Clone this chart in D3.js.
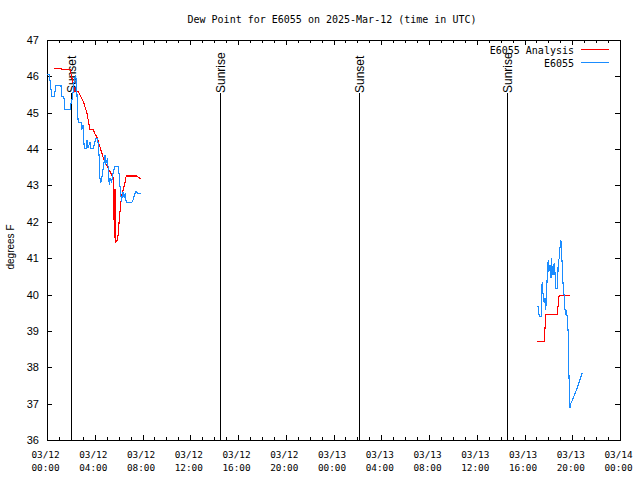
<!DOCTYPE html>
<html><head><meta charset="utf-8">
<script src="https://cdn.jsdelivr.net/npm/d3@7"></script>
<style>
html,body{margin:0;padding:0;background:#fff;}
svg{display:block;}
</style></head><body>
<svg id="chart" width="640" height="480"></svg>
<script>
// ---------------- data ----------------
const chartTitle = "Dew Point for E6055 on 2025-Mar-12 (time in UTC)";
const yAxisTitle = "degrees F";
const seriesNames = ["E6055 Analysis", "E6055"];
const seriesColors = ["#ff0000", "#1a8cff"];

const xDomain = ["2025-03-12 00:00", "2025-03-14 00:00"];
const yDomain = [36, 47];
const yTickValues = [36, 37, 38, 39, 40, 41, 42, 43, 44, 45, 46, 47];

const analysisTimes = [
  "2025-03-12 00:37","2025-03-12 01:14","2025-03-12 01:15","2025-03-12 01:56","2025-03-12 02:04",
  "2025-03-12 02:21","2025-03-12 02:37","2025-03-12 02:45","2025-03-12 03:03","2025-03-12 03:19",
  "2025-03-12 03:36","2025-03-12 03:53","2025-03-12 04:00","2025-03-12 04:10","2025-03-12 04:26",
  "2025-03-12 04:43","2025-03-12 04:51","2025-03-12 05:25","2025-03-12 05:35","2025-03-12 05:38",
  "2025-03-12 05:42","2025-03-12 05:46","2025-03-12 05:55","2025-03-12 06:02","2025-03-12 06:07",
  "2025-03-12 06:15","2025-03-12 06:23","2025-03-12 06:32","2025-03-12 06:35","2025-03-12 06:40",
  "2025-03-12 07:30","2025-03-12 07:47","2025-03-12 07:51",
  "2025-03-13 17:02","2025-03-13 17:39","2025-03-13 17:43","2025-03-13 17:46","2025-03-13 18:45",
  "2025-03-13 18:49","2025-03-13 18:54","2025-03-13 19:48"
];
const analysisValues = [
  46.22,46.22,46.19,46.19,45.98,
  45.58,45.58,45.50,45.30,45.03,
  44.54,44.54,44.42,44.34,44.07,
  43.75,43.65,43.29,43.20,41.55,
  42.90,41.45,41.50,41.97,42.30,
  42.70,42.88,43.07,43.20,43.26,
  43.26,43.20,43.20,
  38.72,38.72,39.07,39.46,39.46,
  39.71,39.98,39.98
];

const obsTimes = [
  "2025-03-12 00:00","2025-03-12 00:12","2025-03-12 00:15","2025-03-12 00:24","2025-03-12 00:37",
  "2025-03-12 00:44","2025-03-12 01:10","2025-03-12 01:14","2025-03-12 01:25","2025-03-12 01:30",
  "2025-03-12 01:56","2025-03-12 02:01","2025-03-12 02:08","2025-03-12 02:17","2025-03-12 02:24",
  "2025-03-12 02:29","2025-03-12 02:34","2025-03-12 02:37","2025-03-12 02:51","2025-03-12 02:54",
  "2025-03-12 03:02","2025-03-12 03:07","2025-03-12 03:16","2025-03-12 03:21","2025-03-12 03:26",
  "2025-03-12 03:36","2025-03-12 03:41","2025-03-12 03:53","2025-03-12 03:59","2025-03-12 04:06",
  "2025-03-12 04:13","2025-03-12 04:18","2025-03-12 04:23","2025-03-12 04:26","2025-03-12 04:30",
  "2025-03-12 04:35","2025-03-12 04:43","2025-03-12 04:51","2025-03-12 04:56","2025-03-12 05:03",
  "2025-03-12 05:08","2025-03-12 05:13","2025-03-12 05:17","2025-03-12 05:25","2025-03-12 05:33",
  "2025-03-12 05:42","2025-03-12 05:58","2025-03-12 06:02","2025-03-12 06:07","2025-03-12 06:12",
  "2025-03-12 06:15","2025-03-12 06:18","2025-03-12 06:23","2025-03-12 06:28","2025-03-12 06:33",
  "2025-03-12 06:38","2025-03-12 07:06","2025-03-12 07:12","2025-03-12 07:22","2025-03-12 07:27",
  "2025-03-12 07:39","2025-03-12 07:52",
  "2025-03-13 17:05","2025-03-13 17:10","2025-03-13 17:14","2025-03-13 17:24","2025-03-13 17:26",
  "2025-03-13 17:29","2025-03-13 17:32","2025-03-13 17:35","2025-03-13 17:39","2025-03-13 17:43",
  "2025-03-13 17:47","2025-03-13 17:56","2025-03-13 17:59","2025-03-13 18:02","2025-03-13 18:08",
  "2025-03-13 18:13","2025-03-13 18:16","2025-03-13 18:19","2025-03-13 18:24","2025-03-13 18:29",
  "2025-03-13 18:33","2025-03-13 18:36","2025-03-13 18:46","2025-03-13 18:49","2025-03-13 18:54",
  "2025-03-13 18:58","2025-03-13 19:03","2025-03-13 19:07","2025-03-13 19:10","2025-03-13 19:15",
  "2025-03-13 19:19","2025-03-13 19:23","2025-03-13 19:27","2025-03-13 19:31","2025-03-13 19:37",
  "2025-03-13 19:40","2025-03-13 19:43","2025-03-13 19:48","2025-03-13 19:53","2025-03-13 20:05",
  "2025-03-13 20:30","2025-03-13 20:50"
];
const obsValues = [
  46.04,46.04,45.90,45.44,45.44,
  45.76,45.76,45.44,45.44,45.08,
  45.08,45.27,45.40,45.90,46.04,
  45.76,44.98,44.72,44.72,44.53,
  44.66,44.02,44.02,44.25,44.02,
  44.20,44.02,44.02,44.17,44.30,
  44.30,44.11,43.70,43.20,43.06,
  43.20,43.48,43.84,43.61,43.70,
  43.48,43.01,43.20,43.10,43.37,
  43.52,43.52,43.34,42.97,42.69,
  42.55,42.74,42.82,42.65,42.79,
  42.53,42.53,42.60,42.78,42.83,
  42.78,42.78,
  39.66,39.66,39.39,39.39,40.08,
  40.35,40.12,39.85,39.77,39.90,
  39.58,40.72,40.95,40.63,40.81,
  40.45,41.00,40.68,40.54,40.86,
  40.63,40.17,40.17,40.81,41.00,
  41.27,41.50,41.14,40.72,40.17,
  39.99,39.62,39.44,39.58,39.21,
  38.89,37.88,36.87,37.01,37.15,
  37.51,37.85
];

const sunEventNames = ["Sunset", "Sunrise", "Sunset", "Sunrise"];
const sunEventTimes = ["2025-03-12 02:01", "2025-03-12 14:29", "2025-03-13 02:08", "2025-03-13 14:34"];

// ---------------- drawing ----------------
const parse = d3.utcParse("%Y-%m-%d %H:%M");
const W = 640, H = 480;
const plot = {left: 47, right: 620, top: 40, bottom: 440};
const svg = d3.select("#chart");
const MONO = "'DejaVu Sans Mono', 'Liberation Mono', monospace";
const SANS = "'Liberation Sans', Arial, sans-serif";

const x = d3.scaleUtc().domain(xDomain.map(parse)).range([plot.left, plot.right]);
const y = d3.scaleLinear().domain(yDomain).range([plot.bottom, plot.top]);

svg.append("rect").attr("width", W).attr("height", H).attr("fill", "#fff");

// title
svg.append("text").attr("x", 332).attr("y", 23).attr("text-anchor", "middle")
  .style("font-family", MONO).style("font-size", "10px").attr("fill", "#000").text(chartTitle);

// y-axis title
svg.append("text").attr("transform", "translate(14,247) rotate(-90)").attr("text-anchor", "middle")
  .style("font-family", SANS).style("font-size", "10px").attr("fill", "#000").text(yAxisTitle);

const [t0, t1] = x.domain();
const majorTicks = d3.utcHour.every(4).range(t0, d3.utcHour.offset(t1, 1));
const minorTicks = d3.utcHour.every(1).range(t0, d3.utcHour.offset(t1, 1)).filter(d => d.getUTCHours() % 4 !== 0);

function styleAxis(g) {
  g.select(".domain").remove();
  g.selectAll("line").attr("stroke", "#000").attr("shape-rendering", "crispEdges");
}

// bottom axis (major with labels)
const fmtDate = d3.utcFormat("%m/%d"), fmtTime = d3.utcFormat("%H:%M");
const gx = svg.append("g").attr("transform", `translate(0,${plot.bottom})`)
  .call(d3.axisBottom(x).tickValues(majorTicks).tickSizeInner(-5).tickSizeOuter(0).tickPadding(11).tickFormat(() => ""))
  .call(styleAxis);
gx.selectAll(".tick text").each(function(d) {
  const t = d3.select(this);
  t.text(null).attr("y", 0).attr("dy", null)
    .style("font-family", MONO).style("font-size", "9.4px").attr("fill", "#000").attr("x", -2);
  t.append("tspan").attr("x", -2).attr("y", 18).text(fmtDate(d));
  t.append("tspan").attr("x", -2).attr("y", 30.5).text(fmtTime(d));
});
svg.append("g").attr("transform", `translate(0,${plot.bottom})`)
  .call(d3.axisBottom(x).tickValues(minorTicks).tickSizeInner(-3).tickSizeOuter(0).tickFormat(() => ""))
  .call(styleAxis);
// top mirror
svg.append("g").attr("transform", `translate(0,${plot.top})`)
  .call(d3.axisTop(x).tickValues(majorTicks).tickSizeInner(-5).tickSizeOuter(0).tickFormat(() => ""))
  .call(styleAxis);
svg.append("g").attr("transform", `translate(0,${plot.top})`)
  .call(d3.axisTop(x).tickValues(minorTicks).tickSizeInner(-3).tickSizeOuter(0).tickFormat(() => ""))
  .call(styleAxis);

// left axis
const gy = svg.append("g").attr("transform", `translate(${plot.left},0)`)
  .call(d3.axisLeft(y).tickValues(yTickValues).tickSizeInner(-5).tickSizeOuter(0).tickPadding(8).tickFormat(d3.format("d")))
  .call(styleAxis);
gy.selectAll(".tick text").style("font-family", SANS).style("font-size", "11px").attr("fill", "#000");
// right mirror
svg.append("g").attr("transform", `translate(${plot.right},0)`)
  .call(d3.axisRight(y).tickValues(yTickValues).tickSizeInner(-5).tickSizeOuter(0).tickFormat(() => ""))
  .call(styleAxis);

// border
svg.append("rect").attr("x", plot.left).attr("y", plot.top)
  .attr("width", plot.right - plot.left).attr("height", plot.bottom - plot.top)
  .attr("fill", "none").attr("stroke", "#000").attr("shape-rendering", "crispEdges");

// sun events
const sunTop = plot.top + 0.1325 * (plot.bottom - plot.top);
const sunG = svg.append("g");
sunEventTimes.forEach((s, i) => {
  const px = Math.round(x(parse(s))) + 0.5;
  sunG.append("line").attr("x1", px).attr("x2", px).attr("y1", sunTop).attr("y2", plot.bottom)
    .attr("stroke", "#000").attr("shape-rendering", "crispEdges");
  sunG.append("text").attr("transform", `translate(${px + 4.5},${sunTop}) rotate(-90)`)
    .style("font-family", SANS).style("font-size", "12px").attr("fill", "#000").text(sunEventNames[i]);
});

// series
function buildSeries(times, values) {
  const pts = [];
  times.forEach((t, i) => {
    const d = parse(t);
    if (pts.length && (d - pts[pts.length - 1].t) > 3 * 3600e3) pts.push({t: null, v: null});
    pts.push({t: d, v: values[i]});
  });
  return pts;
}
const line = d3.line().defined(d => d.t !== null).x(d => x(d.t)).y(d => y(d.v));
const dataSets = [buildSeries(analysisTimes, analysisValues), buildSeries(obsTimes, obsValues)];
dataSets.forEach((pts, i) => {
  svg.append("path").datum(pts).attr("d", line).attr("fill", "none")
    .attr("stroke", seriesColors[i]).attr("stroke-width", 1.1).attr("shape-rendering", "crispEdges");
});

// legend
const legendY = [50, 63];
seriesNames.forEach((name, i) => {
  svg.append("text").attr("x", 574).attr("y", legendY[i] + 4).attr("text-anchor", "end")
    .style("font-family", MONO).style("font-size", "10px").attr("fill", "#000").text(name);
  svg.append("line").attr("x1", 581).attr("x2", 609).attr("y1", legendY[i] - 0.5).attr("y2", legendY[i] - 0.5)
    .attr("stroke", seriesColors[i]).attr("shape-rendering", "crispEdges");
});
</script>
</body></html>
